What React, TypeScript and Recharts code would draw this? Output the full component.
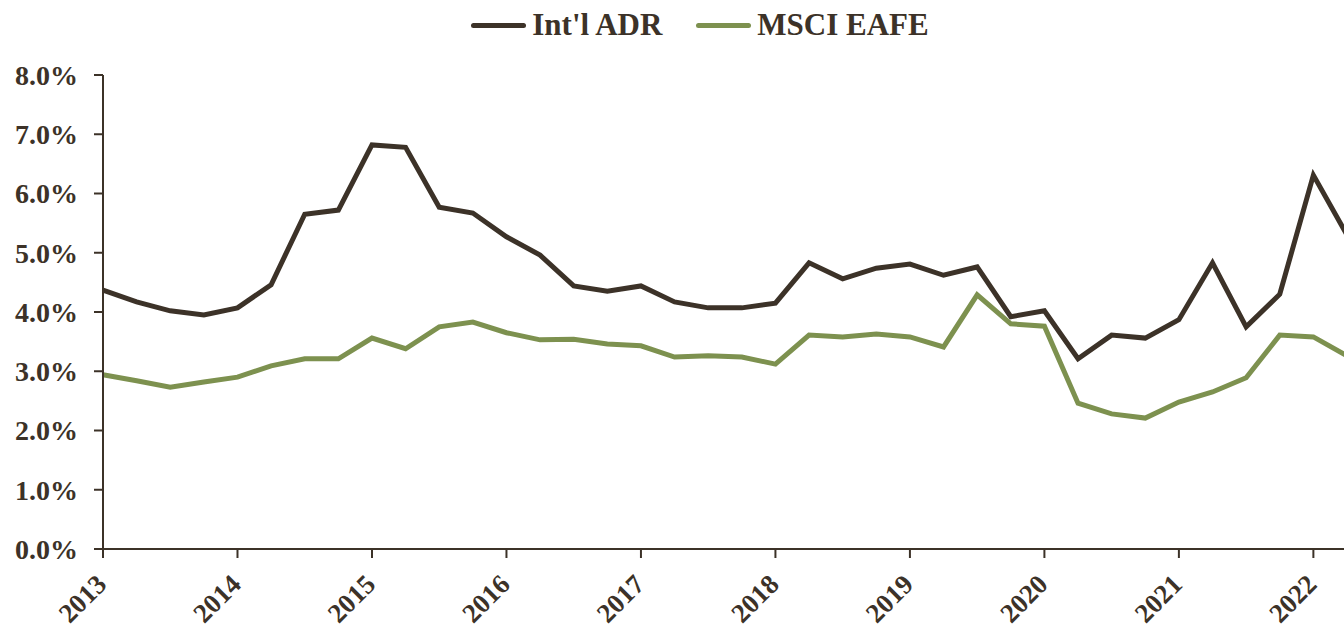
import { LineChart, Line, XAxis, YAxis } from "recharts";

const quarters = [
  2013, 2013.25, 2013.5, 2013.75, 2014, 2014.25, 2014.5, 2014.75,
  2015, 2015.25, 2015.5, 2015.75, 2016, 2016.25, 2016.5, 2016.75,
  2017, 2017.25, 2017.5, 2017.75, 2018, 2018.25, 2018.5, 2018.75,
  2019, 2019.25, 2019.5, 2019.75, 2020, 2020.25, 2020.5, 2020.75,
  2021, 2021.25, 2021.5, 2021.75, 2022, 2022.25,
];

const intlAdr = [
  4.37, 4.17, 4.02, 3.95, 4.07, 4.46, 5.65, 5.72,
  6.82, 6.78, 5.77, 5.67, 5.27, 4.96, 4.44, 4.35,
  4.44, 4.17, 4.07, 4.07, 4.15, 4.83, 4.56, 4.74,
  4.81, 4.62, 4.76, 3.92, 4.02, 3.21, 3.61, 3.56,
  3.87, 4.83, 3.75, 4.3, 6.31, 5.3,
];

const msciEafe = [
  2.94, 2.84, 2.73, 2.82, 2.9, 3.09, 3.21, 3.21,
  3.56, 3.38, 3.75, 3.83, 3.65, 3.53, 3.54, 3.46,
  3.43, 3.24, 3.26, 3.24, 3.12, 3.61, 3.58, 3.63,
  3.58, 3.41, 4.29, 3.8, 3.76, 2.46, 2.28, 2.21,
  2.48, 2.65, 2.89, 3.61, 3.58, 3.26,
];

const yearTicks = [2013, 2014, 2015, 2016, 2017, 2018, 2019, 2020, 2021, 2022];
const pctTicks = [0, 1, 2, 3, 4, 5, 6, 7, 8];

const INK = "#3c3228";
const GREEN = "#7d914f";
const FONT = "'Liberation Serif', 'DejaVu Serif', serif";

const data = quarters.map((t, i) => ({ t, adr: intlAdr[i], eafe: msciEafe[i] }));

function YearTick({ x, y, payload }: any) {
  return (
    <g transform={`translate(${x + 5},${y + 26})`}>
      <text transform="rotate(-45)" textAnchor="end" fill={INK} fontSize={27} fontWeight={700} fontFamily={FONT}>
        {payload.value}
      </text>
    </g>
  );
}

function TopLegend() {
  const items = [
    { label: "Int'l ADR", color: INK },
    { label: "MSCI EAFE", color: GREEN },
  ];
  return (
    <div
      style={{
        position: "absolute", left: 0, top: 7, width: 1400, display: "flex", justifyContent: "center", gap: 34,
        fontFamily: FONT, fontWeight: 700, fontSize: 31, color: INK, lineHeight: "36px",
      }}
    >
      {items.map((it) => (
        <span key={it.label} style={{ display: "inline-flex", alignItems: "center" }}>
          <span style={{ width: 55, height: 5, borderRadius: 3, background: it.color, marginRight: 6 }} />
          {it.label}
        </span>
      ))}
    </div>
  );
}

export default function App() {
  return (
    <div style={{ position: "fixed", left: 0, top: 0, width: 1344, height: 627, overflow: "hidden", background: "#fff" }}>
      <LineChart width={1400} height={627} data={data} margin={{ top: 75, right: 53, bottom: 0, left: 0 }}>
        <XAxis
          dataKey="t"
          type="number"
          domain={[2013, 2022.25]}
          ticks={yearTicks}
          tick={<YearTick />}
          tickSize={9}
          height={78}
          stroke={INK}
          strokeWidth={2}
          interval={0}
        />
        <YAxis
          domain={[0, 8]}
          ticks={pctTicks}
          width={103}
          tickSize={9}
          tickMargin={16}
          stroke={INK}
          strokeWidth={2}
          tickFormatter={(v: number) => `${v.toFixed(1)}%`}
          tick={{ fill: INK, fontSize: 28, fontWeight: 700, fontFamily: FONT }}
          interval={0}
        />
        <Line type="linear" dataKey="adr" name="Int'l ADR" stroke={INK} strokeWidth={5} dot={false} isAnimationActive={false} />
        <Line type="linear" dataKey="eafe" name="MSCI EAFE" stroke={GREEN} strokeWidth={5} dot={false} isAnimationActive={false} />
      </LineChart>
      <TopLegend />
    </div>
  );
}
